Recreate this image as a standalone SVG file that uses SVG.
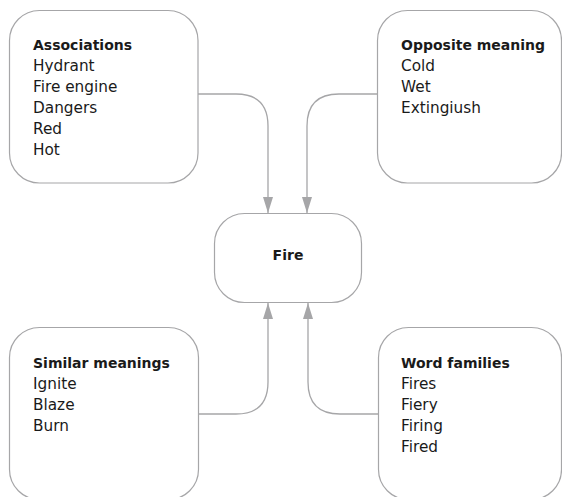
<svg xmlns="http://www.w3.org/2000/svg" width="562" height="497" viewBox="0 0 562 497">
<style>
.box{fill:#fff;stroke:#a6a6a8;stroke-width:1.2}
.t{font-family:"DejaVu Sans","Liberation Sans",sans-serif;font-size:15.3px;fill:#1a1a1a}
.h{font-family:"DejaVu Sans","Liberation Sans",sans-serif;font-size:14px;font-weight:bold;fill:#1a1a1a}
.c{fill:none;stroke:#a6a6a8;stroke-width:1.3}
</style>
<defs>
<marker id="arr" markerUnits="userSpaceOnUse" markerWidth="16" markerHeight="12" viewBox="0 0 16 12" refX="16" refY="6" orient="auto">
<path d="M0,1 L16,6 L0,11 Z" fill="#a6a6a8"/>
</marker>
</defs>
<rect width="562" height="497" fill="#fff"/>
<g id="connectors">
<path class="c" d="M198,94 H236 Q268,94 268,126 V213" marker-end="url(#arr)"/>
<path class="c" d="M377,94 H339 Q307,94 307,126 V213" marker-end="url(#arr)"/>
<path class="c" d="M199,414 H236 Q268,414 268,382 V303" marker-end="url(#arr)"/>
<path class="c" d="M378,414 H340 Q308,414 308,382 V303" marker-end="url(#arr)"/>
</g>
<g id="associations">
<rect class="box" x="9.5" y="10.5" width="188.5" height="172.5" rx="30"/>
<text class="h" x="33" y="49.5">Associations</text>
<text class="t" x="33" y="70.5">Hydrant</text>
<text class="t" x="33" y="91.5">Fire engine</text>
<text class="t" x="33" y="112.5">Dangers</text>
<text class="t" x="33" y="133.5">Red</text>
<text class="t" x="33" y="154.5">Hot</text>
</g>
<g id="opposite">
<rect class="box" x="377.5" y="10.5" width="184" height="172.5" rx="30"/>
<text class="h" x="401" y="50">Opposite meaning</text>
<text class="t" x="401" y="71">Cold</text>
<text class="t" x="401" y="92">Wet</text>
<text class="t" x="401" y="113">Extingiush</text>
</g>
<g id="fire">
<rect class="box" x="214.5" y="213.5" width="147" height="89" rx="30"/>
<text class="h" x="288" y="260" text-anchor="middle">Fire</text>
</g>
<g id="similar">
<rect class="box" x="9.5" y="327.5" width="189" height="172" rx="30"/>
<text class="h" x="33" y="367.5">Similar meanings</text>
<text class="t" x="33" y="388.5">Ignite</text>
<text class="t" x="33" y="409.5">Blaze</text>
<text class="t" x="33" y="430.5">Burn</text>
</g>
<g id="wordfamilies">
<rect class="box" x="378.5" y="327.5" width="183" height="172" rx="30"/>
<text class="h" x="401" y="367.5">Word families</text>
<text class="t" x="401" y="388.5">Fires</text>
<text class="t" x="401" y="409.5">Fiery</text>
<text class="t" x="401" y="430.5">Firing</text>
<text class="t" x="401" y="451.5">Fired</text>
</g>
</svg>
